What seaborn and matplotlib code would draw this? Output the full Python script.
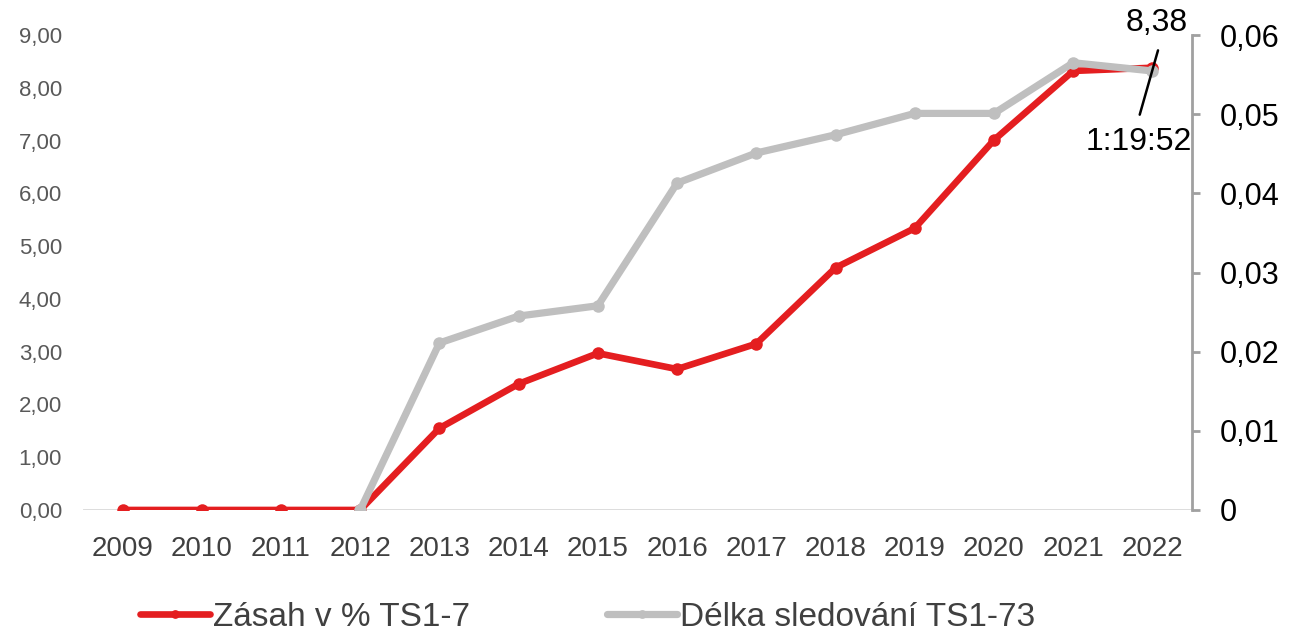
import matplotlib
matplotlib.use("Agg")
import matplotlib.pyplot as plt
import seaborn as sns
import pandas as pd
import numpy as np

sns.set_style("white")
plt.rcParams['font.family'] = ['Liberation Sans', 'DejaVu Sans']

years = list(range(2009, 2023))
# Zásah v % TS1-7 (left axis)
zasah = [0.0, 0.0, 0.0, 0.0, 1.55, 2.39, 2.97, 2.67, 3.15, 4.59, 5.34, 7.01, 8.32, 8.38]
# Délka sledování TS1-73 (right axis, fraction of a day), starts in 2012
delka_years = list(range(2012, 2023))
delka = [0.0, 0.0211, 0.0245, 0.0258, 0.0413, 0.0451, 0.0474, 0.0501, 0.0501, 0.0565, 0.05546]

left_ticks = [0, 1, 2, 3, 4, 5, 6, 7, 8, 9]
right_ticks = [0, 0.01, 0.02, 0.03, 0.04, 0.05, 0.06]
red = "#E41E20"
gray = "#BFBFBF"

df_red = pd.DataFrame({"year": years, "value": zasah})
df_gray = pd.DataFrame({"year": delka_years, "value": delka})

fig = plt.figure(figsize=(12.94, 6.37), dpi=100)
ax = fig.add_axes([0.0641, 0.1994, 0.8571, 0.7456])
ax2 = ax.twinx()

sns.lineplot(data=df_red, x="year", y="value", ax=ax, color=red, linewidth=4.8,
             marker="o", markersize=9, markeredgewidth=0, label="Zásah v % TS1-7", legend=False)
sns.lineplot(data=df_gray, x="year", y="value", ax=ax2, color=gray, linewidth=5.2,
             marker="o", markersize=9, markeredgewidth=0, label="Délka sledování TS1-73", legend=False)

ax.set_xlim(2008.5, 2022.5)
ax.set_ylim(0, 9)
ax2.set_ylim(0, 0.06)

ax.set_xticks(years)
ax.set_xticklabels([str(y) for y in years], fontsize=20, color="#404040")
ax.set_yticks(left_ticks)
ax.set_yticklabels([f"{v:.2f}".replace(".", ",") for v in left_ticks], fontsize=16, color="#595959")
ax2.set_yticks(right_ticks)
ax2.set_yticklabels(["0"] + [f"{v:.2f}".replace(".", ",") for v in right_ticks[1:]], fontsize=22, color="black")

ax.set_xlabel("")
ax.set_ylabel("")
ax2.set_ylabel("")

for a in (ax, ax2):
    a.spines["top"].set_visible(False)
    a.spines["left"].set_visible(False)
    a.spines["right"].set_visible(False)
    a.spines["bottom"].set_visible(False)
    a.grid(False)
ax.axhline(0, color="#D9D9D9", linewidth=2, zorder=0)
ax2.spines["right"].set_visible(True)
ax2.spines["right"].set_color("#A0A0A0")
ax2.spines["right"].set_linewidth(2)

ax.tick_params(axis="x", length=0, pad=19)
ax.tick_params(axis="y", length=0, pad=15)
ax2.tick_params(axis="y", direction="out", length=6, width=2, color="#A0A0A0", pad=14)

# data labels for last point
ax2.annotate("", xy=(2022.08, 0.0584), xytext=(2021.83, 0.0496),
             arrowprops=dict(arrowstyle="-", color="black", linewidth=1.8))
ax.text(2022.05, 8.95, "8,38", fontsize=23, ha="center", va="bottom", color="black")
ax2.text(2021.83, 0.0484, "1:19:52", fontsize=23, ha="center", va="top", color="black")

h1, l1 = ax.get_legend_handles_labels()
h2, l2 = ax2.get_legend_handles_labels()
fig.legend(h1 + h2, l1 + l2, loc="center", bbox_to_anchor=(0.454, 0.031), ncol=2,
           frameon=False, fontsize=24, handlelength=2.1, handletextpad=0.1,
           columnspacing=4.1, labelcolor="#404040", markerscale=0.7)

fig.savefig("out.png", dpi=100)
